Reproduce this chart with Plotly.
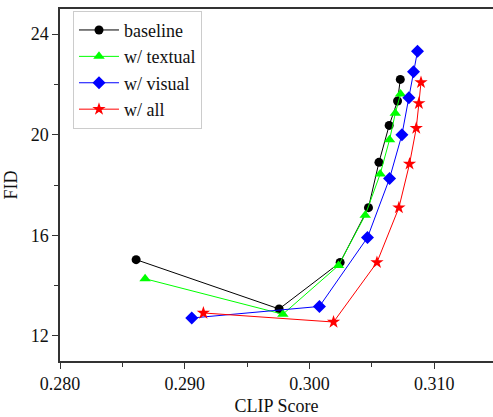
import plotly.graph_objects as go

# CLIP Score vs FID for each guidance variant
baseline_x = [0.2861, 0.29756, 0.30245, 0.30472, 0.30556, 0.30638, 0.30705, 0.30727]
baseline_y = [15.03, 13.07, 14.92, 17.10, 18.90, 20.37, 21.34, 22.20]

textual_x = [0.28682, 0.29786, 0.30232, 0.30446, 0.30566, 0.30641, 0.30687, 0.30729]
textual_y = [14.27, 12.86, 14.80, 16.80, 18.44, 19.80, 20.85, 21.62]

visual_x = [0.29056, 0.30079, 0.30464, 0.30641, 0.30740, 0.30796, 0.30833, 0.30865]
visual_y = [12.71, 13.17, 15.91, 18.26, 20.00, 21.47, 22.50, 23.32]

all_x = [0.29149, 0.30192, 0.30540, 0.30716, 0.30801, 0.30855, 0.30876, 0.30893]
all_y = [12.91, 12.55, 14.92, 17.10, 18.84, 20.26, 21.25, 22.08]

series = [
    ("baseline", baseline_x, baseline_y, "#000000", "circle", 9),
    ("w/ textual", textual_x, textual_y, "#00ff00", "triangle-up", 10),
    ("w/ visual", visual_x, visual_y, "#0000ff", "diamond", 10),
    ("w/ all", all_x, all_y, "#ff0000", "star", 10),
]

font_family = "Liberation Serif"

fig = go.Figure()
for name, xs, ys, color, symbol, size in series:
    fig.add_trace(go.Scatter(
        x=xs, y=ys, name=name, mode="lines+markers",
        line=dict(color=color, width=1),
        marker=dict(color=color, symbol=symbol, size=size, line=dict(width=0)),
    ))

axis_common = dict(
    showgrid=False, zeroline=False,
    showline=True, linecolor="#333333", linewidth=1.5,
    ticks="outside", ticklen=6, tickwidth=1, tickcolor="#333333",
    tickfont=dict(family=font_family, size=18, color="#111111"),
)

fig.update_layout(
    width=493, height=417,
    margin=dict(l=60, r=0, t=9, b=56),
    plot_bgcolor="white", paper_bgcolor="white",
    font=dict(family=font_family, color="#111111"),
    xaxis=dict(
        range=[0.280, 0.3147], dtick=0.01, tick0=0.28, tickformat=".3f",
        mirror=True,
        minor=dict(dtick=0.005, tick0=0.28, ticks="outside", ticklen=4, tickcolor="#333333"),
        title=dict(text="CLIP Score", font=dict(family=font_family, size=18), standoff=6),
        **axis_common,
    ),
    yaxis=dict(
        range=[11, 25], dtick=4, tick0=12,
        minor=dict(dtick=2, tick0=12, ticks="outside", ticklen=4, tickcolor="#333333"),
        title=dict(text="FID", font=dict(family=font_family, size=18), standoff=8),
        **axis_common,
    ),
    legend=dict(
        x=0.03, y=0.995, xanchor="left", yanchor="top",
        bordercolor="#cccccc", borderwidth=1, bgcolor="white",
        font=dict(family=font_family, size=18, color="#111111"),
        itemwidth=40, tracegroupgap=0,
    ),
    showlegend=True,
)

fig.write_html("out.html")
